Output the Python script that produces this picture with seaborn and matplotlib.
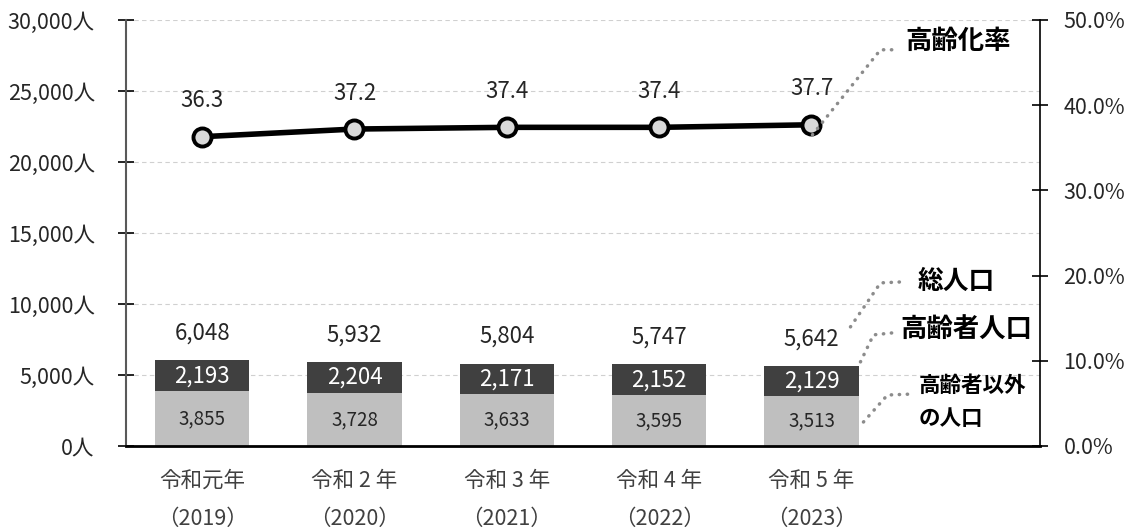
import numpy as np
import pandas as pd
import matplotlib
matplotlib.use("Agg")
import matplotlib.pyplot as plt
import matplotlib.transforms as mtransforms
import seaborn as sns

# data
years = ["令和元年\n（2019）", "令和 2 年\n（2020）", "令和 3 年\n（2021）",
         "令和 4 年\n（2022）", "令和 5 年\n（2023）"]
elderly = [2193, 2204, 2171, 2152, 2129]
non_elderly = [3855, 3728, 3633, 3595, 3513]
total = [6048, 5932, 5804, 5747, 5642]
aging_rate = [36.3, 37.2, 37.4, 37.4, 37.7]

left_ticks = [0, 5000, 10000, 15000, 20000, 25000, 30000]
right_ticks = [0, 10, 20, 30, 40, 50]

sns.set_theme(style="white")
plt.rcParams["font.family"] = ["Noto Sans CJK JP", "DejaVu Sans"]

df = pd.DataFrame({"year": years, "total": total, "non_elderly": non_elderly})

fig = plt.figure(figsize=(11.31, 5.30), dpi=100)
ax = fig.add_axes([0.1114, 0.1585, 0.8081, 0.8038])
ax2 = ax.twinx()

DARK = "#404040"
LIGHT = "#bfbfbf"
TXT = "#262626"

# stacked bars: full height in dark, lower part in light on top
sns.barplot(data=df, x="year", y="total", color=DARK, saturation=1, width=0.62,
            ax=ax, edgecolor="none")
sns.barplot(data=df, x="year", y="non_elderly", color=LIGHT, saturation=1, width=0.62,
            ax=ax, edgecolor="none")

ax.set_xlim(-0.5, 5.5)
ax.set_ylim(0, 30000)
ax.set_yticks(left_ticks)
ax.set_yticklabels([f"{v:,}人" for v in left_ticks])
ax.set_xlabel("")
ax.set_ylabel("")
ax.set_axisbelow(True)
ax.yaxis.grid(True, linestyle=(0, (4, 3)), color="#d0d0d0", linewidth=0.8)

for i in range(len(years)):
    ax.text(i, non_elderly[i] / 2, f"{non_elderly[i]:,}", ha="center", va="center",
            fontsize=13.5, color=TXT)
    ax.text(i, non_elderly[i] + elderly[i] / 2, f"{elderly[i]:,}", ha="center",
            va="center", fontsize=16, color="white")
    ax.annotate(f"{total[i]:,}", xy=(i, total[i]), xytext=(0, 27),
                textcoords="offset pixels", ha="center", va="center",
                fontsize=16, color=TXT)

# aging rate line
sns.lineplot(x=np.arange(len(years)), y=aging_rate, ax=ax2, color="black",
             linewidth=4, marker="o", markersize=13, markerfacecolor="#d9d9d9",
             markeredgecolor="black", markeredgewidth=2.8, zorder=5)
ax2.set_ylim(0, 50)
ax2.set_yticks(right_ticks)
ax2.set_yticklabels([f"{v:.1f}%" for v in right_ticks])
ax2.set_ylabel("")
for i, r in enumerate(aging_rate):
    ax2.annotate(f"{r}", xy=(i, r), xytext=(0, 36), textcoords="offset pixels",
                 ha="center", va="center", fontsize=16, color=TXT)

# axes styling
ax.spines["top"].set_visible(False)
ax2.spines["top"].set_visible(False)
ax.spines["left"].set_color("#595959")
ax.spines["left"].set_linewidth(1.5)
ax.spines["bottom"].set_color("black")
ax.spines["bottom"].set_linewidth(2)
ax2.spines["right"].set_color("black")
ax2.spines["right"].set_linewidth(1.2)
for s in ["left", "bottom"]:
    ax2.spines[s].set_visible(False)
ax.spines["right"].set_visible(False)

ax.tick_params(axis="y", direction="inout", length=12, width=1.2, color="black",
               labelsize=15.5, labelcolor=TXT, pad=16.5, left=True)
ax.tick_params(axis="x", length=0, labelsize=15.5, labelcolor="#404040", pad=17)
for lab in ax.get_xticklabels():
    lab.set_linespacing(1.97)
ax2.tick_params(axis="y", direction="inout", length=12, width=1.2, color="black",
                labelsize=15.5, labelcolor=TXT, pad=11, right=True)


# leader lines (offsets in pixels from an anchor in data coords)
def leader(axis, anchor, pts, label, text_off, fs, ls=1.7):
    tr = mtransforms.Affine2D().scale(fig.dpi / 100) + \
        mtransforms.ScaledTranslation(anchor[0], anchor[1], axis.transData)
    xs, ys = zip(*pts)
    axis.plot(xs, ys, transform=tr, color="#8c8c8c", linewidth=2.5,
              linestyle=(0, (0.1, 2.2)), dash_capstyle="round", clip_on=False,
              zorder=6)
    axis.annotate(label, xy=anchor, xytext=text_off, textcoords="offset pixels",
                  ha="left", va="center", fontsize=fs, fontweight="bold",
                  color="black", linespacing=ls, annotation_clip=False)


last = len(years) - 1
leader(ax2, (last, aging_rate[last]), [(1, -10), (69, 75), (84, 75)],
       "高齢化率", (94, 83), 19)
leader(ax, (last, total[last]), [(39, 39), (69, 83), (91, 84)],
       "総人口", (106, 84), 18.5)
leader(ax, (last, total[last]), [(49, 4), (62, 31), (81, 33)],
       "高齢者人口", (89, 36), 19)
leader(ax, (last, 0), [(52, 24), (76, 51), (102, 52)],
       "高齢者以外\nの人口", (107, 44), 15.5)

fig.savefig("out.png", dpi=100)
